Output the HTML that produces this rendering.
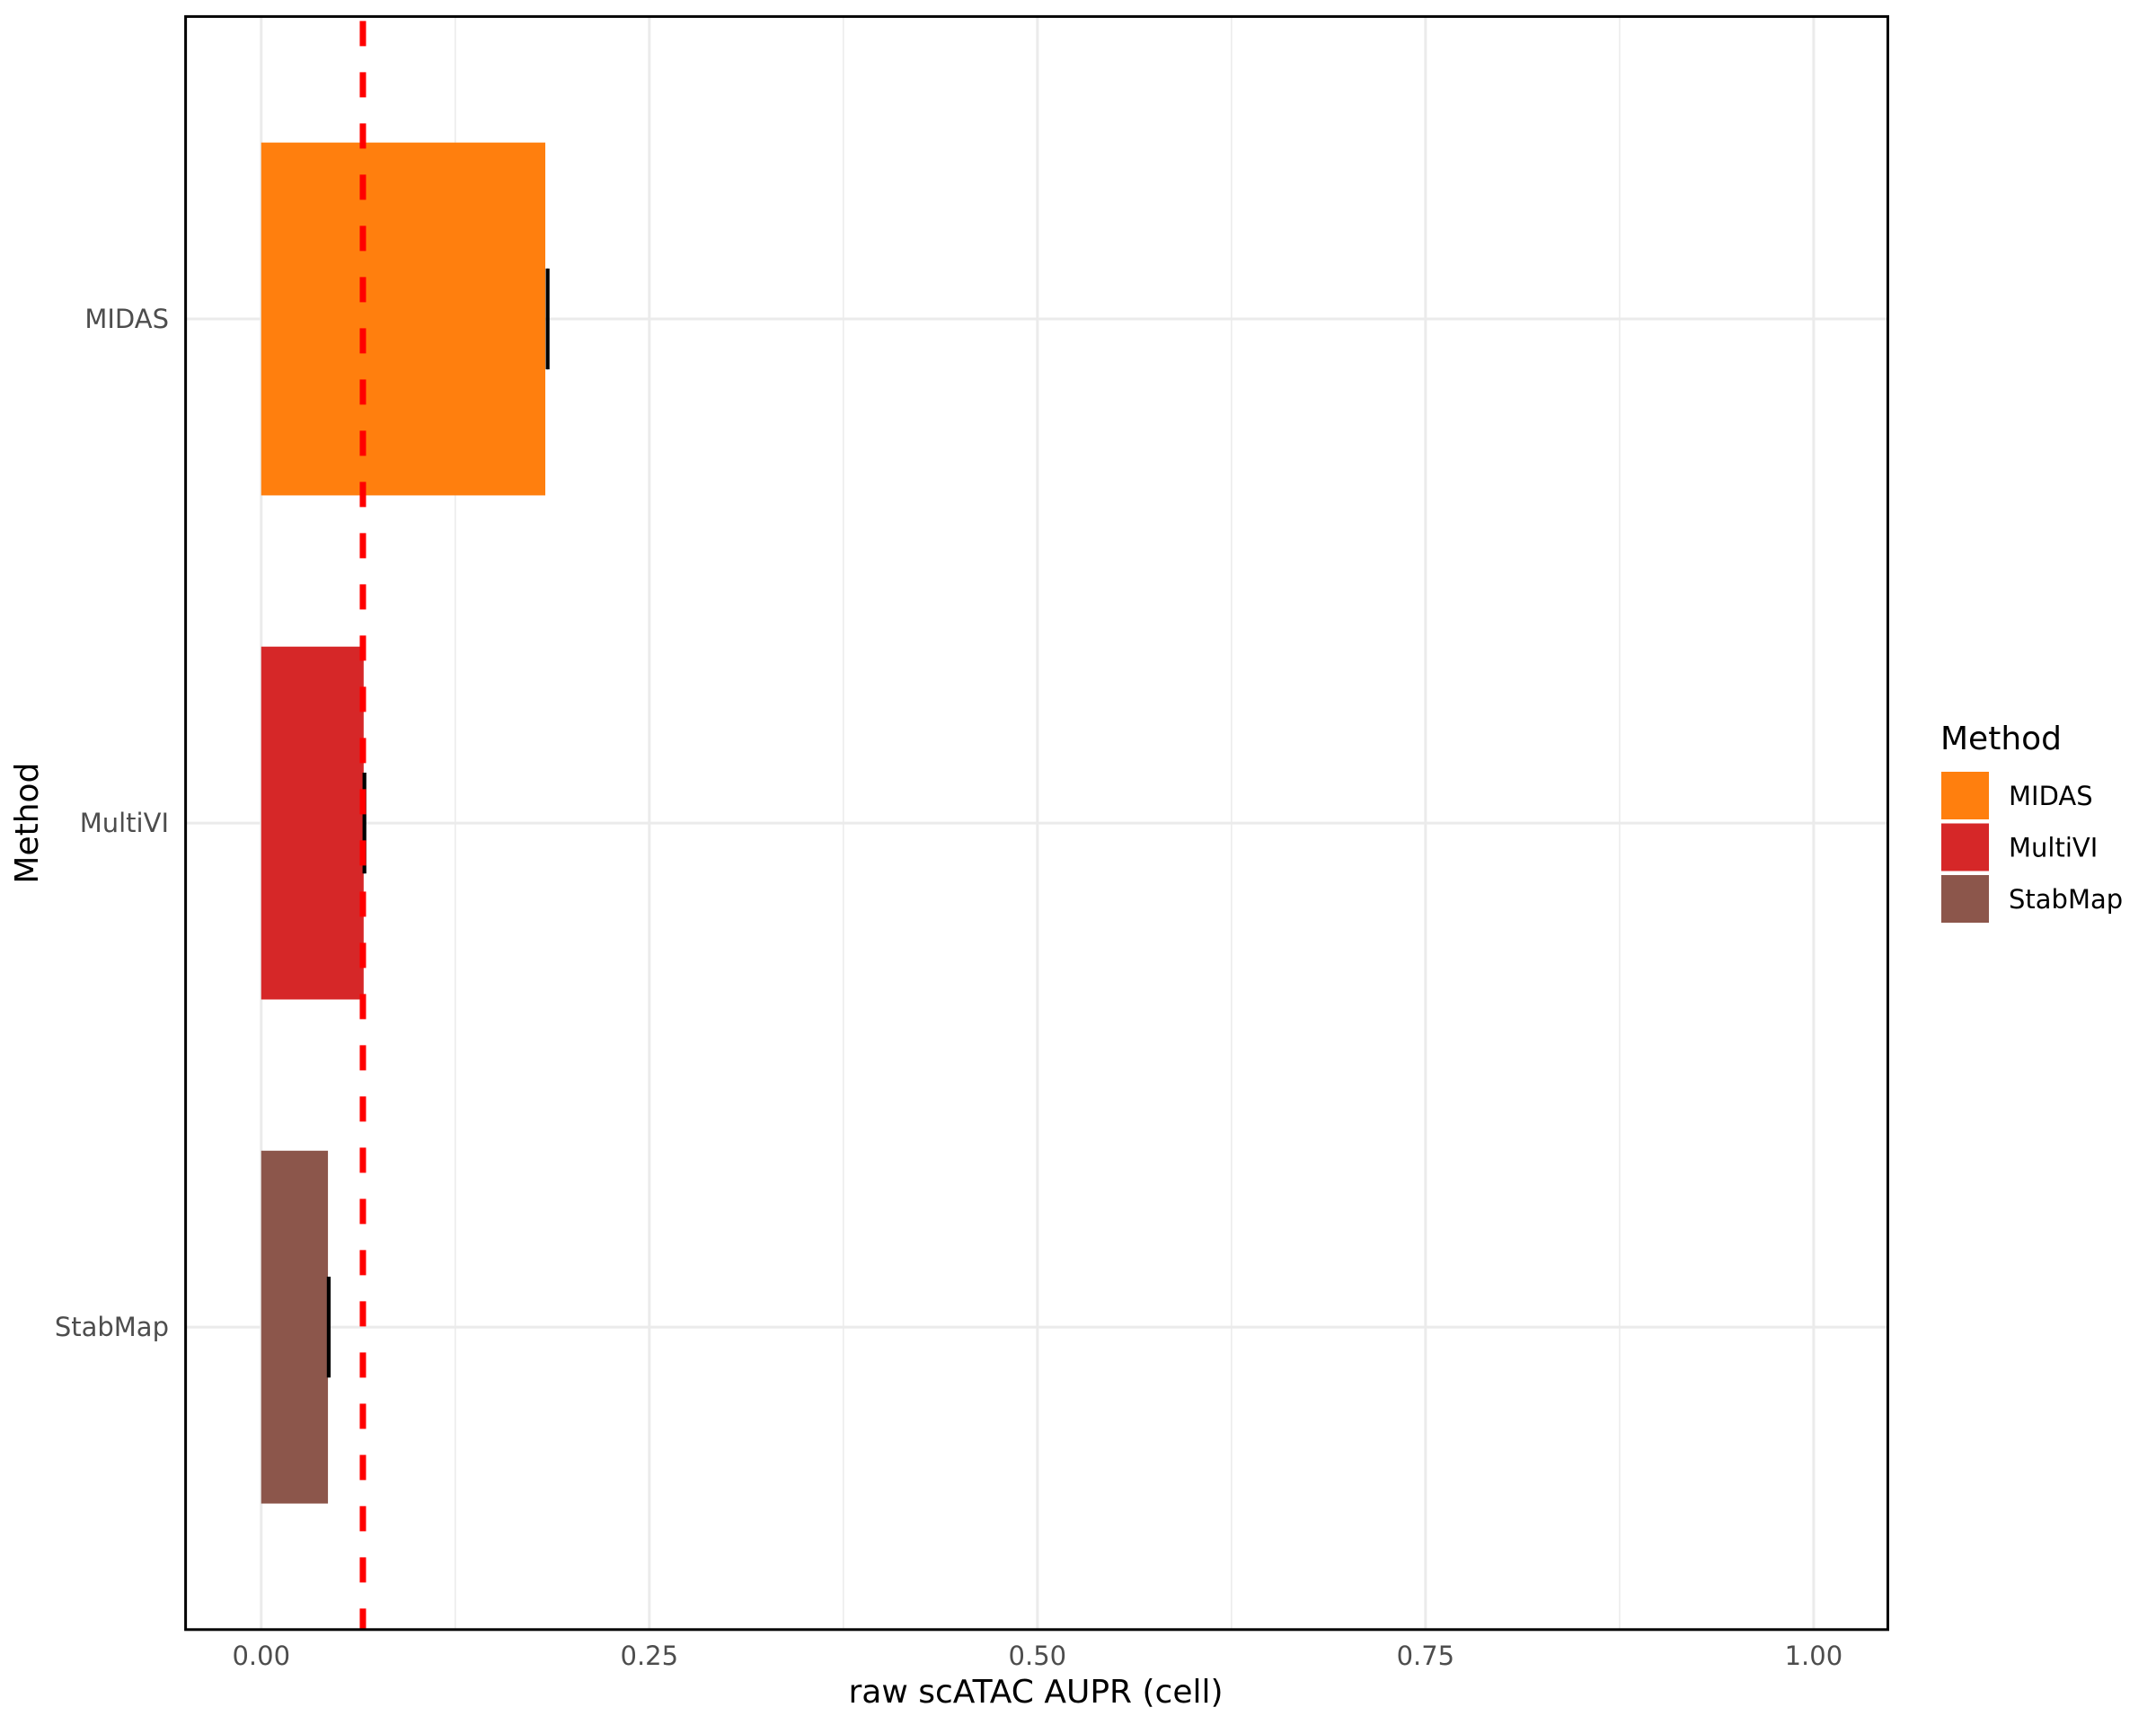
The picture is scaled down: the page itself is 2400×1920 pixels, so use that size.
<!DOCTYPE html>
<html><head><meta charset="utf-8"><style>
html,body{margin:0;padding:0;background:#fff;}
svg{display:block;font-family:"DejaVu Sans","Liberation Sans",sans-serif;}
</style></head><body>
<svg id="chart" width="2400" height="1920" viewBox="0 0 2400 1920"></svg>
<script>
const categories = ["MIDAS", "MultiVI", "StabMap"];
const values = [0.183, 0.066, 0.043];
const errLow = [0.184, 0.066, 0.043];
const errHigh = [0.185, 0.067, 0.044];
const colors = ["#FF7F0E", "#D62728", "#8C564B"];
const xTicks = [0, 0.25, 0.5, 0.75, 1.0];
const xTickLabels = ["0.00", "0.25", "0.50", "0.75", "1.00"];
const xMinor = [0.125, 0.375, 0.625, 0.875];
const refLine = 0.0655;

const NS = "http://www.w3.org/2000/svg";
const svg = document.getElementById("chart");
const P = {l: 206.6, r: 2101.5, t: 18.4, b: 1813.8};
const xMin = -0.0487, xMax = 1.0478;
function xs(v){ return P.l + (v - xMin) / (xMax - xMin) * (P.r - P.l); }
const nCat = categories.length;
const step = (P.b - P.t) / (nCat + 0.2);
function ys(i){ return P.t + step * (0.6 + i); }

function el(tag, attrs, parent){
  const e = document.createElementNS(NS, tag);
  for (const k in attrs) e.setAttribute(k, attrs[k]);
  (parent || svg).appendChild(e);
  return e;
}

const grid = el("g", {});


xMinor.forEach(v => {
  el("line", {x1: xs(v), x2: xs(v), y1: P.t, y2: P.b, stroke: "#ebebeb", "stroke-width": 1.5}, grid);
});
xTicks.forEach(v => {
  el("line", {x1: xs(v), x2: xs(v), y1: P.t, y2: P.b, stroke: "#ebebeb", "stroke-width": 3}, grid);
});
categories.forEach((c, i) => {
  el("line", {x1: P.l, x2: P.r, y1: ys(i), y2: ys(i), stroke: "#ebebeb", "stroke-width": 3}, grid);
});

const bh = step * 0.7;
categories.forEach((c, i) => {
  const r = el("rect", {x: xs(0), y: ys(i) - bh / 2, width: xs(values[i]) - xs(0), height: bh, fill: colors[i]});
  
  
});
categories.forEach((c, i) => {
  const g = el("g", {});
  
  
  const h = step * 0.1;
  [errLow[i], errHigh[i]].forEach(v => {
    el("line", {x1: xs(v), x2: xs(v), y1: ys(i) - h, y2: ys(i) + h, stroke: "#000", "stroke-width": 2.5}, g);
  });
  el("line", {x1: xs(errLow[i]), x2: xs(errHigh[i]), y1: ys(i), y2: ys(i), stroke: "#000", "stroke-width": 2.5}, g);
});

const rl = el("line", {x1: xs(refLine), x2: xs(refLine), y1: P.t + 5, y2: P.b, stroke: "#FF0000", "stroke-width": 7, "stroke-dasharray": "28 29"});



const frame = el("rect", {x: P.l, y: P.t, width: P.r - P.l, height: P.b - P.t, fill: "none", stroke: "#000", "stroke-width": 3});



xTicks.forEach((v, i) => {
  const t = el("text", {x: xs(v), y: 1853, "text-anchor": "middle", "font-size": 29, fill: "#4d4d4d"});
  t.textContent = xTickLabels[i];
  
  
});
categories.forEach((c, i) => {
  const t = el("text", {x: 188, y: ys(i) + 10, "text-anchor": "end", "font-size": 29, fill: "#4d4d4d"});
  t.textContent = c;
  
  
});

const xt = el("text", {x: 1153, y: 1895, "text-anchor": "middle", "font-size": 36, fill: "#000"});
xt.textContent = "raw scATAC AUPR (cell)";


const yt = el("text", {x: 0, y: 0, "text-anchor": "middle", "font-size": 36, fill: "#000", transform: "translate(42," + ((P.t + P.b) / 2) + ") rotate(-90)"});
yt.textContent = "Method";



const lg = el("g", {});


const lt = el("text", {x: 2160, y: 834, "font-size": 36, fill: "#000"}, lg);
lt.textContent = "Method";


categories.forEach((c, i) => {
  const y0 = 859 + i * 57.5;
  const k = el("rect", {x: 2161, y: y0, width: 53, height: 53, fill: colors[i]}, lg);
  
  
  const t = el("text", {x: 2236, y: y0 + 37, "font-size": 29, fill: "#000"}, lg);
  t.textContent = c;
  
  
});
</script>
</body></html>
